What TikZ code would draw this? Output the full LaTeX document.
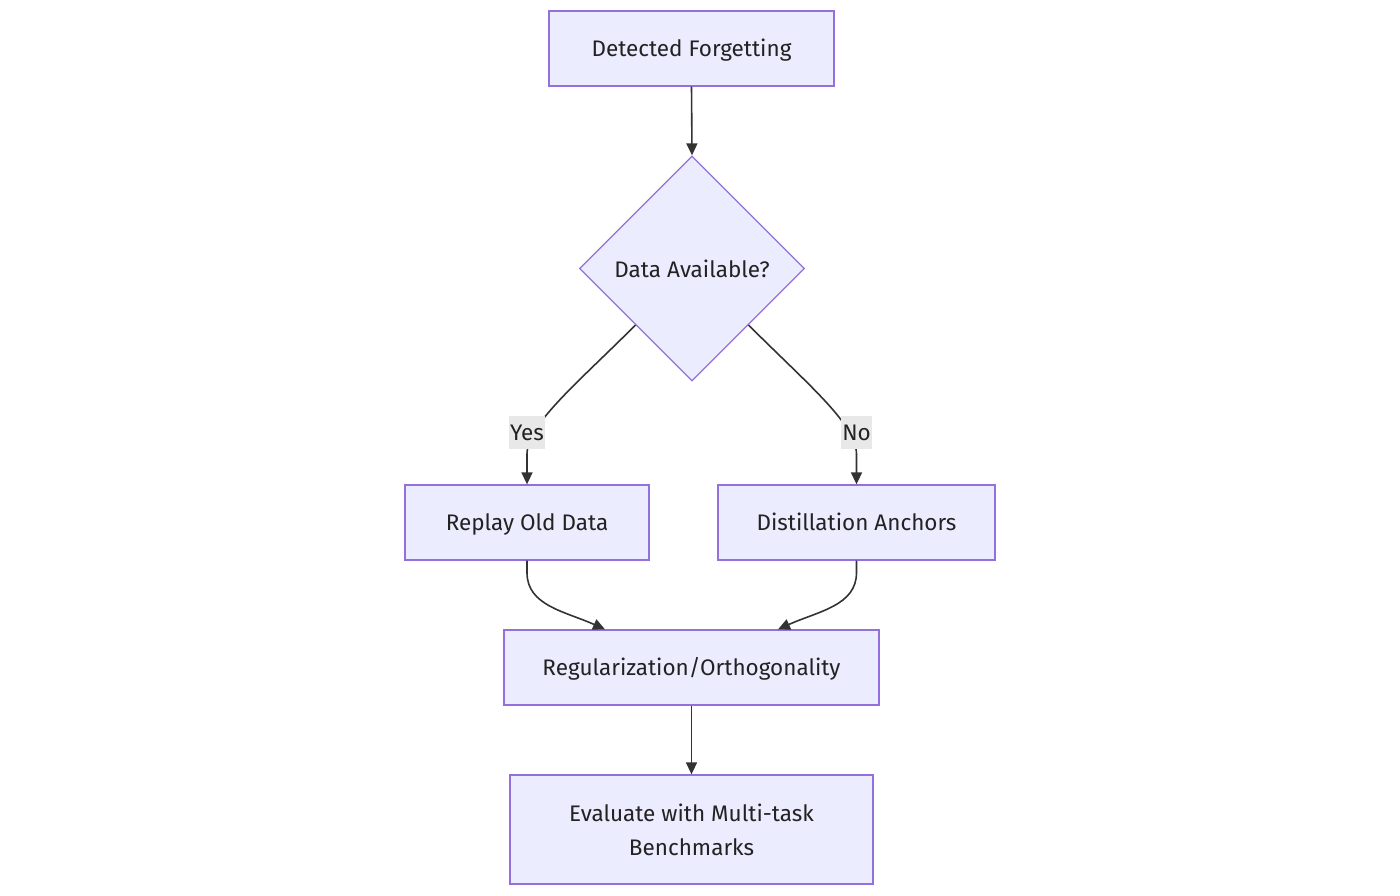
\documentclass[tikz,border=0pt]{standalone}
\usepackage{fontspec}
\setmainfont{Fira Sans}
\usetikzlibrary{shapes.geometric,arrows.meta,calc}
\definecolor{nodefill}{HTML}{ECECFF}
\definecolor{nodeline}{HTML}{9370DB}
\definecolor{edgecol}{HTML}{333333}
\definecolor{labelbg}{HTML}{E8E8E8}
\definecolor{txt}{HTML}{222222}
\tikzset{
  box/.style={draw=nodeline, fill=nodefill, line width=1.3pt, rectangle, inner sep=0pt,
    text=txt, font=\fontsize{22.5}{34}\selectfont, align=center},
  oneline/.style={text height=18pt, text depth=3pt},
  decision/.style={draw=nodeline, fill=nodefill, line width=1.3pt, diamond, inner sep=0pt,
    minimum width=225pt, minimum height=225pt, text=txt, font=\fontsize{22.5}{34}\selectfont},
  edgelabel/.style={fill=labelbg, inner xsep=1pt, inner ysep=0pt, minimum height=33pt,
    text=txt, font=\fontsize{22.5}{26}\selectfont},
  conn/.style={draw=edgecol, line width=1.6pt, -{Triangle[length=12pt,width=11pt]}}
}
\begin{document}
\begin{tikzpicture}[x=1pt,y=-1pt]
\useasboundingbox[fill=white] (0,0) rectangle (1400,895);
\node[box, oneline, minimum width=285pt, minimum height=75pt] (det) at (691.5,48.5) {Detected Forgetting};
\node[decision] (data) at (692,268.5) {Data Available?};
\node[box, oneline, minimum width=244pt, minimum height=75pt] (replay) at (527,522.5) {Replay Old Data};
\node[box, oneline, minimum width=277pt, minimum height=75pt] (distil) at (856.5,522.5) {Distillation Anchors};
\node[box, oneline, minimum width=375pt, minimum height=75pt] (reg) at (691.5,667.5) {Regularization/Orthogonality};
\node[box, minimum width=363pt, minimum height=109pt] (eval) at (691.5,829.5) {Evaluate with Multi-task\\Benchmarks};

\draw[conn] (det.south) -- (data.north);
\draw[conn] (data.south west) .. controls ($(data.south west)+(-60,60)$) and ($(replay.north)+(0,-60)$) .. ($(replay.north)+(0,-30)$) -- (replay.north);
\draw[conn] (data.south east) .. controls ($(data.south east)+(60,60)$) and ($(distil.north)+(0,-60)$) .. ($(distil.north)+(0,-30)$) -- (distil.north);
\node[edgelabel] (yes) at (527,432.5) {Yes};
\node[edgelabel] (no) at (856.5,432.5) {No};

\draw[conn] (replay.south) -- ($(replay.south)+(0,12)$) .. controls ($(replay.south)+(0,45)$) and ($([xshift=-86.5pt]reg.north)+(-40,-18)$) .. ([xshift=-86.5pt]reg.north);
\draw[conn] (distil.south) -- ($(distil.south)+(0,12)$) .. controls ($(distil.south)+(0,45)$) and ($([xshift=86.5pt]reg.north)+(40,-18)$) .. ([xshift=86.5pt]reg.north);
\draw[conn] (reg.south) -- (eval.north);
\end{tikzpicture}
\end{document}
